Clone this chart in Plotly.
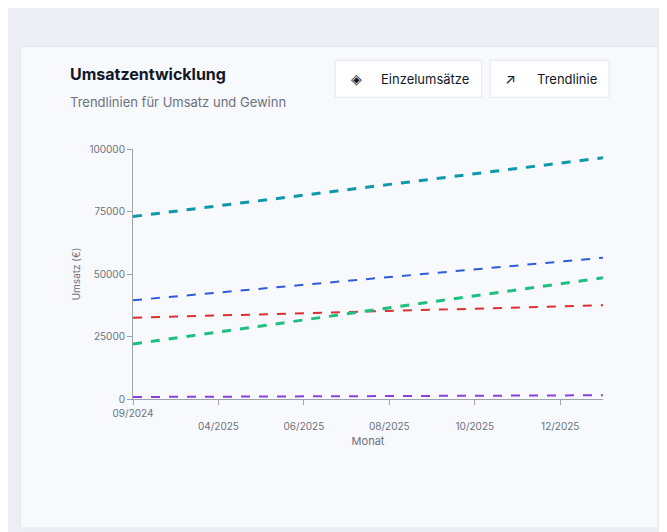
import plotly.graph_objects as go

months = ["09/2024","03/2025","04/2025","05/2025","06/2025","07/2025","08/2025","09/2025","10/2025","11/2025","12/2025","01/2026"]
tick_labels = ["09/2024","04/2025","06/2025","08/2025","10/2025","12/2025"]
tick_pos = ["09/2024","04/2025","06/2025","08/2025","10/2025","12/2025"]
series = {
    "teal":   (73000, 96500),
    "blue":   (39500, 56500),
    "red":    (32500, 37500),
    "green":  (22000, 48500),
    "purple": (800, 1500),
}
colors = {"teal":"#0e98ac","blue":"#2f5bd8","red":"#dc2f2f","green":"#1fbf7f","purple":"#8a3fe0"}
widths = {"teal":3,"blue":2,"red":2,"green":3,"purple":2}

fig = go.Figure()
for k,(a,b) in series.items():
    fig.add_trace(go.Scatter(x=[months[0], months[-1]], y=[a,b], mode="lines",
        line=dict(color=colors[k], width=widths[k], dash="dash"), hoverinfo="skip"))

ticktext = [tick_labels[0]] + ["<br>"+t for t in tick_labels[1:]]
fig.update_layout(
    width=659, height=524, showlegend=False,
    paper_bgcolor="#eceef4", plot_bgcolor="#f7f9fc",
    margin=dict(l=125, r=64, t=141, b=133),
    font=dict(family="Inter, Noto Sans", color="#6b7280", size=10),
    xaxis=dict(type="category", categoryorder="array", categoryarray=months,
        range=[0, 11], tickvals=tick_pos, ticktext=ticktext, showgrid=False,
        showline=True, linecolor="#9ca3af", ticks="outside", tickcolor="#9ca3af",
        title=dict(text="Monat", standoff=6, font=dict(size=11)), zeroline=False),
    yaxis=dict(range=[0, 100000], tickvals=[0,25000,50000,75000,100000], showgrid=False,
        showline=True, linecolor="#9ca3af", ticks="outside", tickcolor="#9ca3af",
        tickformat="d", title=dict(text="Umsatz (€)", standoff=6, font=dict(size=10)), zeroline=False),
    shapes=[
        dict(type="rect", xref="paper", yref="paper", x0=-0.239, x1=1.117, y0=-0.516, y1=1.41,
             fillcolor="#f7f9fc", line=dict(color="#e3e6ee", width=1), layer="below"),
        dict(type="rect", xref="paper", yref="paper", x0=0.43, x1=0.742, y0=1.207, y1=1.355,
             fillcolor="#ffffff", line=dict(color="#e2e5eb", width=1)),
        dict(type="rect", xref="paper", yref="paper", x0=0.76, x1=1.013, y0=1.207, y1=1.355,
             fillcolor="#ffffff", line=dict(color="#e2e5eb", width=1)),
    ],
    annotations=[
        dict(text="<b>Umsatzentwicklung</b>", xref="paper", yref="paper", x=-0.138, y=1.3,
             xanchor="left", yanchor="middle", showarrow=False, font=dict(size=16, color="#111827")),
        dict(text="Trendlinien für Umsatz und Gewinn", xref="paper", yref="paper", x=-0.138, y=1.19,
             xanchor="left", yanchor="middle", showarrow=False, font=dict(size=13, color="#6b7280")),
        dict(text="◈", xref="paper", yref="paper", x=0.475, y=1.281, xanchor="center", yanchor="middle",
             showarrow=False, font=dict(size=14, color="#111827")),
        dict(text="Einzelumsätze", xref="paper", yref="paper", x=0.523, y=1.281, xanchor="left", yanchor="middle",
             showarrow=False, font=dict(size=13, color="#111827")),
        dict(text="↗", xref="paper", yref="paper", x=0.803, y=1.281, xanchor="center", yanchor="middle",
             showarrow=False, font=dict(size=14, color="#111827")),
        dict(text="Trendlinie", xref="paper", yref="paper", x=0.855, y=1.281, xanchor="left", yanchor="middle",
             showarrow=False, font=dict(size=13, color="#111827")),
    ],
)
fig.write_html("out.html")
